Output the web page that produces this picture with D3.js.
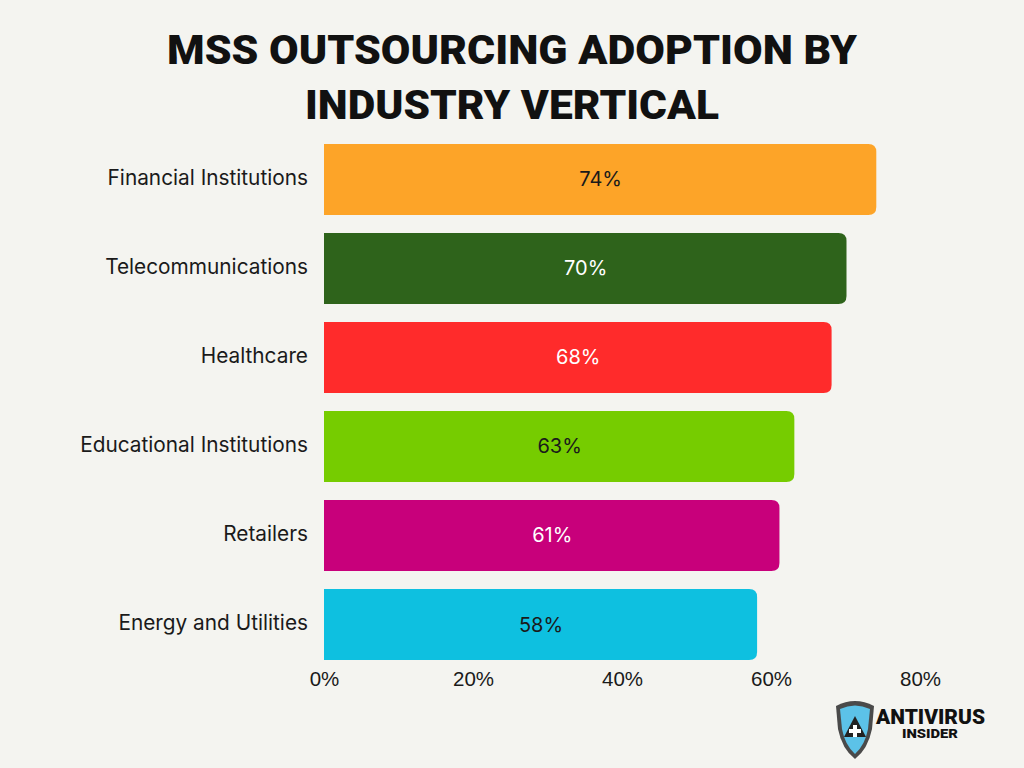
<!DOCTYPE html>
<html lang="en">
<head>
<meta charset="utf-8">
<title>MSS Outsourcing Adoption</title>
<script src="https://cdn.jsdelivr.net/npm/d3@7"></script>
<style>
  body { margin: 0; background: #f4f4f0; }
  svg { display: block; font-family: Inter, Roboto, sans-serif; }
  .title { font-family: Roboto, sans-serif; font-weight: 900; font-size: 40px; fill: #111; text-anchor: middle; }
  .cat { font-size: 20.8px; fill: #1a1a1a; text-anchor: end; dominant-baseline: middle; }
  .val { font-size: 20px; text-anchor: middle; dominant-baseline: middle; }
  .tick text { font-size: 20.5px; fill: #1a1a1a; }
</style>
</head>
<body>
<svg width="1024" height="768"></svg>
<script>
var categories = ["Financial Institutions", "Telecommunications", "Healthcare",
                  "Educational Institutions", "Retailers", "Energy and Utilities"];
var values = [74, 70, 68, 63, 61, 58];
var colors = ["#fda428", "#2e631b", "#ff2b2b", "#76cc00", "#c8007b", "#0ec0e0"];
var labelColors = ["#1a1a1a", "#fff", "#fff", "#1a1a1a", "#fff", "#1a1a1a"];
var ticks = [0, 20, 40, 60, 80];

var svg = d3.select("svg");

svg.append("text").attr("class", "title")
  .attr("x", 512).attr("y", 64)
  .attr("textLength", 690).attr("lengthAdjust", "spacingAndGlyphs")
  .text("MSS OUTSOURCING ADOPTION BY");
svg.append("text").attr("class", "title")
  .attr("x", 512).attr("y", 119)
  .attr("textLength", 414).attr("lengthAdjust", "spacingAndGlyphs")
  .text("INDUSTRY VERTICAL");

var x = d3.scaleLinear().domain([0, 80]).range([324, 920]);
var y = d3.scaleBand().domain(categories).range([135, 668]).paddingInner(0.213).paddingOuter(0.1);

// bars with rounded right corners
function barPath(d, i) {
  var x0 = x(0), x1 = x(values[i]) + 1, y0 = y(d), h = y.bandwidth() + 1, r = 8;
  return "M" + x0 + "," + y0 + "H" + (x1 - r) + "Q" + x1 + "," + y0 + " " + x1 + "," + (y0 + r) +
    "V" + (y0 + h - r) + "Q" + x1 + "," + (y0 + h) + " " + (x1 - r) + "," + (y0 + h) + "H" + x0 + "Z";
}

svg.append("g").selectAll("path")
  .data(categories).enter().append("path")
  .attr("d", barPath)
  .attr("fill", function(d, i) { return colors[i]; });

svg.append("g").selectAll("text")
  .data(categories).enter().append("text")
  .attr("class", "cat")
  .attr("x", 308)
  .attr("y", function(d) { return y(d) + y.bandwidth() / 2; })
  .text(function(d) { return d; });

svg.append("g").selectAll("text")
  .data(categories).enter().append("text")
  .attr("class", "val")
  .attr("x", function(d, i) { return (x(0) + x(values[i])) / 2 + 1; })
  .attr("y", function(d) { return y(d) + y.bandwidth() / 2 + 2; })
  .attr("fill", function(d, i) { return labelColors[i]; })
  .text(function(d, i) { return values[i] + "%"; });

var axis = svg.append("g")
  .attr("transform", "translate(0,667)")
  .call(d3.axisBottom(x).tickValues(ticks).tickSize(0).tickPadding(4)
    .tickFormat(function(d) { return d + "%"; }));
axis.select(".domain").remove();
axis.selectAll("text").attr("font-family", null);

// logo
var logo = svg.append("g").attr("transform", "translate(835,699)");
logo.append("path")
  .attr("d", "M1,7 Q20,-3 39,7 L37,30 Q33,50 20,60 Q7,50 3,30 Z")
  .attr("fill", "#4a4a4a");
logo.append("path")
  .attr("d", "M5,10 Q20,3 35,10 L33,30 Q30,46 20,55 Q10,46 7,30 Z")
  .attr("fill", "#5cc2e8");
logo.append("path")
  .attr("d", "M20,17 L31,38 L9,38 Z")
  .attr("fill", "#222");
logo.append("path")
  .attr("d", "M18,26 h4 v4 h4 v4 h-4 v4 h-4 v-4 h-4 v-4 h4 Z")
  .attr("fill", "#fff");
logo.append("text").attr("x", 41).attr("y", 25)
  .attr("font-family", "Roboto").attr("font-weight", 900).attr("font-size", 21)
  .attr("textLength", 109).attr("lengthAdjust", "spacingAndGlyphs")
  .attr("fill", "#111").text("ANTIVIRUS");
logo.append("text").attr("x", 95).attr("y", 39)
  .attr("font-family", "Roboto").attr("font-weight", 900).attr("font-size", 12)
  .attr("text-anchor", "middle")
  .attr("textLength", 56).attr("lengthAdjust", "spacingAndGlyphs")
  .attr("fill", "#111").text("INSIDER");
</script>
</body>
</html>
